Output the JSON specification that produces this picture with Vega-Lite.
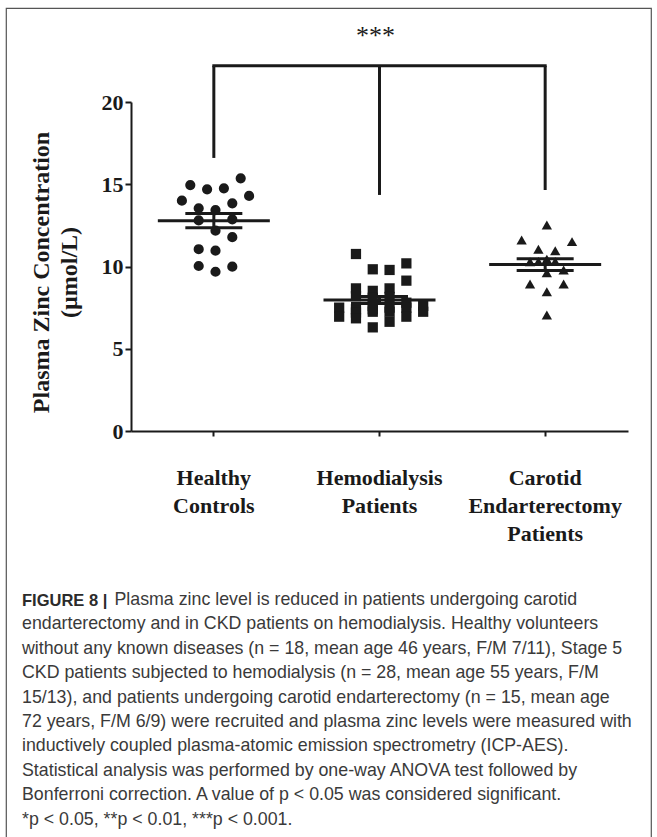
{
  "$schema": "https://vega.github.io/schema/vega-lite/v6.json",
  "width": 645,
  "height": 830,
  "autosize": {"type": "none"},
  "padding": {"left": 6, "top": 8, "right": 6, "bottom": 0},
  "background": "white",
  "config": {
    "view": {"stroke": "#555555", "strokeWidth": 1.2},
    "axis": {"grid": false}
  },
  "title": {
    "text": "FIGURE 8 |",
    "subtitle": [
      "\u200b\u2002\u2002\u2002\u2002\u2002\u2002\u2002\u2002\u2002\u2002\u2009Plasma zinc level is reduced in patients undergoing carotid",
      "endarterectomy and in CKD patients on hemodialysis. Healthy volunteers",
      "without any known diseases (n = 18, mean age 46 years, F/M 7/11), Stage 5",
      "CKD patients subjected to hemodialysis (n = 28, mean age 55 years, F/M",
      "15/13), and patients undergoing carotid endarterectomy (n = 15, mean age",
      "72 years, F/M 6/9) were recruited and plasma zinc levels were measured with",
      "inductively coupled plasma-atomic emission spectrometry (ICP-AES).",
      "Statistical analysis was performed by one-way ANOVA test followed by",
      "Bonferroni correction. A value of p < 0.05 was considered significant.",
      "*p < 0.05, **p < 0.01, ***p < 0.001."
    ],
    "orient": "top",
    "anchor": "start",
    "frame": "group",
    "dx": 16,
    "dy": 826,
    "font": "Liberation Sans",
    "fontSize": 16.5,
    "fontWeight": "bold",
    "color": "#2b2b2b",
    "lineHeight": 18,
    "subtitleFont": "Liberation Sans",
    "subtitleFontSize": 17.8,
    "subtitleFontWeight": "normal",
    "subtitleColor": "#3a3a3a",
    "subtitleLineHeight": 24.4,
    "subtitlePadding": -18
  },
  "datasets": {
    "points": [
      {"group": "Healthy Controls", "value": 15.36, "col": 3},
      {"group": "Healthy Controls", "value": 14.95, "col": -3},
      {"group": "Healthy Controls", "value": 14.69, "col": -1},
      {"group": "Healthy Controls", "value": 14.75, "col": 1},
      {"group": "Healthy Controls", "value": 14.29, "col": 4},
      {"group": "Healthy Controls", "value": 14.0, "col": -4},
      {"group": "Healthy Controls", "value": 13.54, "col": -2},
      {"group": "Healthy Controls", "value": 13.43, "col": 0},
      {"group": "Healthy Controls", "value": 13.84, "col": 2},
      {"group": "Healthy Controls", "value": 12.87, "col": 2},
      {"group": "Healthy Controls", "value": 12.8, "col": -2},
      {"group": "Healthy Controls", "value": 12.18, "col": 0},
      {"group": "Healthy Controls", "value": 11.78, "col": 2},
      {"group": "Healthy Controls", "value": 11.05, "col": -2},
      {"group": "Healthy Controls", "value": 10.96, "col": 0},
      {"group": "Healthy Controls", "value": 10.03, "col": -2},
      {"group": "Healthy Controls", "value": 9.68, "col": 0},
      {"group": "Healthy Controls", "value": 9.99, "col": 2},
      {"group": "Hemodialysis Patients", "value": 10.76, "col": -3},
      {"group": "Hemodialysis Patients", "value": 9.83, "col": -1},
      {"group": "Hemodialysis Patients", "value": 9.79, "col": 1},
      {"group": "Hemodialysis Patients", "value": 10.19, "col": 3},
      {"group": "Hemodialysis Patients", "value": 9.14, "col": 3},
      {"group": "Hemodialysis Patients", "value": 8.67, "col": -3},
      {"group": "Hemodialysis Patients", "value": 8.52, "col": -1},
      {"group": "Hemodialysis Patients", "value": 8.67, "col": 1},
      {"group": "Hemodialysis Patients", "value": 7.5, "col": -5},
      {"group": "Hemodialysis Patients", "value": 6.95, "col": -5},
      {"group": "Hemodialysis Patients", "value": 8.2, "col": -3},
      {"group": "Hemodialysis Patients", "value": 7.4, "col": -3},
      {"group": "Hemodialysis Patients", "value": 7.2, "col": -3},
      {"group": "Hemodialysis Patients", "value": 6.85, "col": -3},
      {"group": "Hemodialysis Patients", "value": 8.1, "col": -1},
      {"group": "Hemodialysis Patients", "value": 7.6, "col": -1},
      {"group": "Hemodialysis Patients", "value": 7.4, "col": -1},
      {"group": "Hemodialysis Patients", "value": 7.25, "col": -1},
      {"group": "Hemodialysis Patients", "value": 6.3, "col": -1},
      {"group": "Hemodialysis Patients", "value": 8.15, "col": 1},
      {"group": "Hemodialysis Patients", "value": 7.5, "col": 1},
      {"group": "Hemodialysis Patients", "value": 7.25, "col": 1},
      {"group": "Hemodialysis Patients", "value": 6.64, "col": 1},
      {"group": "Hemodialysis Patients", "value": 7.8, "col": 3},
      {"group": "Hemodialysis Patients", "value": 7.5, "col": 3},
      {"group": "Hemodialysis Patients", "value": 6.95, "col": 3},
      {"group": "Hemodialysis Patients", "value": 7.6, "col": 5},
      {"group": "Hemodialysis Patients", "value": 7.25, "col": 5},
      {"group": "Carotid Endarterectomy Patients", "value": 12.52, "col": 0},
      {"group": "Carotid Endarterectomy Patients", "value": 11.61, "col": -3},
      {"group": "Carotid Endarterectomy Patients", "value": 11.51, "col": 3},
      {"group": "Carotid Endarterectomy Patients", "value": 11.05, "col": -1},
      {"group": "Carotid Endarterectomy Patients", "value": 10.96, "col": 1},
      {"group": "Carotid Endarterectomy Patients", "value": 10.29, "col": -2},
      {"group": "Carotid Endarterectomy Patients", "value": 10.3, "col": 1},
      {"group": "Carotid Endarterectomy Patients", "value": 10.3, "col": -1},
      {"group": "Carotid Endarterectomy Patients", "value": 10.45, "col": 0},
      {"group": "Carotid Endarterectomy Patients", "value": 9.62, "col": 0},
      {"group": "Carotid Endarterectomy Patients", "value": 9.79, "col": 2},
      {"group": "Carotid Endarterectomy Patients", "value": 8.94, "col": -2},
      {"group": "Carotid Endarterectomy Patients", "value": 8.94, "col": 2},
      {"group": "Carotid Endarterectomy Patients", "value": 8.47, "col": 0},
      {"group": "Carotid Endarterectomy Patients", "value": 7.05, "col": 0}
    ],
    "bracketLegs": [
      {"group": "Healthy Controls", "value": 16.6, "top": 22.2},
      {"group": "Hemodialysis Patients", "value": 14.35, "top": 22.2},
      {"group": "Carotid Endarterectomy Patients", "value": 14.65, "top": 22.2}
    ],
    "bracketTop": [
      {"group": "Healthy Controls", "value": 22.2},
      {"group": "Carotid Endarterectomy Patients", "value": 22.2}
    ],
    "stars": [
      {"group": "Hemodialysis Patients", "value": 24.0, "label": "***"}
    ]
  },
  "layer": [
    {
      "data": {"name": "points"},
      "mark": {"type": "point", "filled": true, "opacity": 1, "color": "#1a1a1a"},
      "encoding": {
        "x": {
          "field": "group",
          "type": "nominal",
          "title": null,
          "scale": {
            "type": "band",
            "domain": ["Healthy Controls", "Hemodialysis Patients", "Carotid Endarterectomy Patients"],
            "range": [125, 622],
            "paddingInner": 0,
            "paddingOuter": 0
          },
          "axis": {
            "orient": "bottom",
            "offset": -407,
            "labelExpr": "split(datum.label, ' ')",
            "labelAngle": 0,
            "labelFont": "Liberation Serif",
            "labelFontWeight": "bold",
            "labelFontSize": 22,
            "labelColor": "#1a1a1a",
            "labelLineHeight": 28,
            "labelBaseline": "top",
            "labelPadding": 31,
            "labelLimit": 400,
            "domainColor": "#1a1a1a",
            "domainWidth": 2,
            "tickColor": "#1a1a1a",
            "tickWidth": 2,
            "tickSize": 5
          }
        },
        "xOffset": {
          "field": "col",
          "type": "quantitative",
          "scale": {"domain": [-5, 5], "range": [42.5, 126.5]}
        },
        "y": {
          "field": "value",
          "type": "quantitative",
          "title": ["Plasma Zinc Concentration", "(µmol/L)"],
          "scale": {"domain": [0, 20], "range": [423, 94], "nice": false},
          "axis": {
            "orient": "left",
            "offset": -125,
            "values": [0, 5, 10, 15, 20],
            "labelFont": "Liberation Serif",
            "labelFontWeight": "bold",
            "labelFontSize": 22,
            "labelColor": "#1a1a1a",
            "labelPadding": 2,
            "domainColor": "#1a1a1a",
            "domainWidth": 2,
            "tickColor": "#1a1a1a",
            "tickWidth": 2,
            "tickSize": 6,
            "titleFont": "Liberation Serif",
            "titleFontWeight": "bold",
            "titleFontSize": 24,
            "titleColor": "#1a1a1a",
            "titleLineHeight": 28,
            "titlePadding": 20,
            "titleY": 264
          }
        },
        "shape": {
          "field": "group",
          "type": "nominal",
          "scale": {
            "domain": ["Healthy Controls", "Hemodialysis Patients", "Carotid Endarterectomy Patients"],
            "range": ["circle", "square", "triangle-up"]
          },
          "legend": null
        },
        "size": {
          "field": "group",
          "type": "ordinal",
          "scale": {
            "domain": ["Healthy Controls", "Hemodialysis Patients", "Carotid Endarterectomy Patients"],
            "range": [104, 106, 150]
          },
          "legend": null
        }
      }
    },
    {
      "data": {"name": "points"},
      "mark": {"type": "tick", "size": 112, "thickness": 3, "color": "#1a1a1a", "opacity": 1},
      "encoding": {
        "x": {"field": "group", "type": "nominal", "title": null},
        "y": {"aggregate": "mean", "field": "value", "type": "quantitative", "title": ["Plasma Zinc Concentration", "(µmol/L)"]}
      }
    },
    {
      "data": {"name": "points"},
      "mark": {
        "type": "errorbar",
        "extent": "stderr",
        "ticks": {"opacity": 1, "color": "#1a1a1a"},
        "rule": {"opacity": 1, "color": "#1a1a1a"},
        "size": 57,
        "thickness": 3,
        "color": "#1a1a1a"
      },
      "encoding": {
        "x": {"field": "group", "type": "nominal", "title": null},
        "y": {"field": "value", "type": "quantitative", "title": ["Plasma Zinc Concentration", "(µmol/L)"]}
      }
    },
    {
      "data": {"name": "bracketLegs"},
      "mark": {"type": "rule", "strokeWidth": 3, "color": "#1a1a1a"},
      "encoding": {
        "x": {"field": "group", "type": "nominal", "title": null},
        "y": {"field": "value", "type": "quantitative", "title": ["Plasma Zinc Concentration", "(µmol/L)"]},
        "y2": {"field": "top"}
      }
    },
    {
      "data": {"name": "bracketTop"},
      "mark": {"type": "line", "strokeWidth": 3, "color": "#1a1a1a", "strokeCap": "square"},
      "encoding": {
        "x": {"field": "group", "type": "nominal", "title": null},
        "y": {"field": "value", "type": "quantitative", "title": ["Plasma Zinc Concentration", "(µmol/L)"]}
      }
    },
    {
      "data": {"name": "stars"},
      "mark": {"type": "text", "font": "Liberation Serif", "fontSize": 26, "color": "#1a1a1a", "baseline": "middle", "dx": -4},
      "encoding": {
        "x": {"field": "group", "type": "nominal", "title": null},
        "y": {"field": "value", "type": "quantitative", "title": ["Plasma Zinc Concentration", "(µmol/L)"]},
        "text": {"field": "label"}
      }
    }
  ]
}
